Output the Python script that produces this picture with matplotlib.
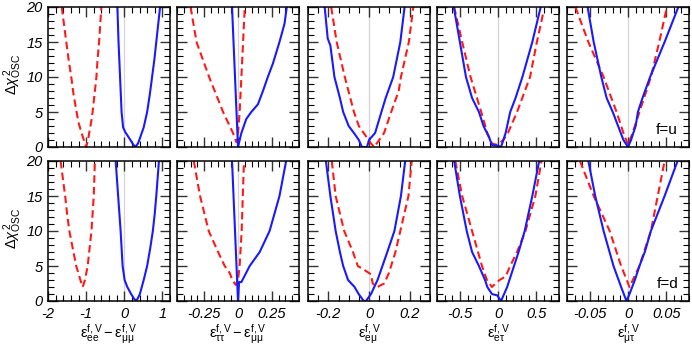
import matplotlib
matplotlib.use("Agg")
import matplotlib.pyplot as plt
from matplotlib.ticker import MultipleLocator, FuncFormatter

plt.rcParams['font.family'] = ['Liberation Sans', 'DejaVu Sans']
plt.rcParams['axes.unicode_minus'] = False
plt.rcParams['mathtext.fontset'] = 'custom'
plt.rcParams['mathtext.rm'] = 'Liberation Sans'
plt.rcParams['mathtext.it'] = 'Liberation Sans:italic'
plt.rcParams['mathtext.bf'] = 'Liberation Sans:bold'

# ---- data: f = u (top row) ----
u_ee_blue_x = [-0.18, -0.15, -0.11, -0.07, -0.03, 0.03, 0.15, 0.23, 0.29, 0.36, 0.42, 0.51, 0.60, 0.67, 0.73, 0.79, 0.84, 0.89, 0.94]
u_ee_blue_y = [20, 15, 10, 5, 2.8, 2.1, 1.1, 0.4, 0, 0.5, 1.4, 2.8, 5, 7.5, 10, 12.5, 15, 17.5, 20]
u_ee_red_x = [-1.64, -1.58, -1.52, -1.46, -1.39, -1.33, -1.25, -1.20, -1.12, -1.06, -1.0,
              -0.95, -0.92, -0.87, -0.83, -0.78, -0.73, -0.70, -0.66, -0.63, -0.60]
u_ee_red_y = [20, 17.5, 15, 12.5, 10, 7.5, 5, 3.5, 2, 1, 0, 1, 2, 3.5, 5, 7.5, 10, 12.5, 15, 17.5, 20]

u_tt_blue_x = [-0.044, 0.0, 0.025, 0.061, 0.098, 0.147, 0.184, 0.22, 0.257, 0.306, 0.343, 0.36]
u_tt_blue_y = [20, 0, 2, 4, 5, 6.1, 8, 10, 11.9, 15, 17.6, 20]
u_tt_red_x = [-0.35, -0.306, -0.213, -0.11, -0.037, -0.012, -0.004, 0.012, 0.025, 0.05]
u_tt_red_y = [20, 15, 10, 5, 2, 0.7, 0.9, 5, 10, 20]

u_em_blue_x = [-0.218, -0.203, -0.19, -0.17, -0.143, -0.127, -0.10, -0.074, -0.05, -0.035, -0.01, 0.0, 0.03, 0.061, 0.082, 0.119, 0.154, 0.175]
u_em_blue_y = [20, 15.5, 14.5, 10, 7, 5, 3, 2, 1, 0, 0, 1, 2, 5, 7, 10, 15, 20]
u_em_red_x = [-0.186, -0.159, -0.119, -0.074, -0.05, -0.014, 0.01, 0.026, 0.05, 0.074, 0.109, 0.146, 0.157, 0.196, 0.218]
u_em_red_y = [20, 15, 10, 5, 3, 1.5, 0.5, 0, 1, 2, 5, 8, 10, 15, 20]

u_et_blue_x = [-0.58, -0.50, -0.42, -0.34, -0.25, -0.19, -0.145, -0.11, -0.08, -0.01, 0.04, 0.10, 0.16, 0.23, 0.32, 0.45, 0.56]
u_et_blue_y = [20, 15, 10, 7, 5, 3, 2, 1.2, 0.3, 0.2, 0, 2, 5, 7, 10, 15, 20]
u_et_red_x = [-0.575, -0.47, -0.36, -0.22, -0.14, -0.08, -0.01, 0.07, 0.13, 0.25, 0.42, 0.51, 0.59]
u_et_red_y = [20, 15, 10, 5, 2, 0.5, 0.3, 1, 2, 5, 10, 15, 19]

u_mt_blue_x = [-0.053, -0.045, -0.035, -0.028, -0.020, -0.013, -0.006, 0.0, 0.004, 0.010, 0.013, 0.019, 0.029, 0.048, 0.066]
u_mt_blue_y = [20, 15, 10, 7, 5, 3, 1, 0, 1, 3, 5, 7, 10, 15, 20]
u_mt_red_x = [-0.069, -0.052, -0.032, -0.015, -0.006, 0.0, 0.006, 0.015, 0.030, 0.041, 0.051]
u_mt_red_y = [20, 15, 10, 5, 2, 0.3, 2, 5, 10, 15, 20]

# ---- data: f = d (bottom row) ----
d_ee_blue_x = [-0.225, -0.16, -0.095, -0.043, 0.01, 0.08, 0.18, 0.26, 0.32, 0.41, 0.51, 0.60, 0.68, 0.75, 0.80, 0.84, 0.91]
d_ee_blue_y = [20, 15, 10, 5, 3, 2, 1, 0.3, 0, 1, 3, 5, 7.5, 10, 12.5, 15, 20]
d_ee_red_x = [-1.67, -1.61, -1.55, -1.50, -1.44, -1.35, -1.26, -1.15, -1.09, -1.03, -0.96, -0.91, -0.86, -0.80, -0.77]
d_ee_red_y = [20, 17.5, 15, 12.5, 10, 7.5, 5, 3, 2, 3, 5, 7.5, 10, 15, 20]

d_tt_blue_x = [-0.044, 0.0, 0.008, 0.025, 0.086, 0.16, 0.233, 0.306, 0.355]
d_tt_blue_y = [20, 0, 2.7, 2.7, 5, 7, 10, 15, 20]
d_tt_red_x = [-0.326, -0.28, -0.216, -0.147, -0.098, -0.061, -0.042, -0.017, 0.0, 0.012, 0.027, 0.044]
d_tt_red_y = [20, 15, 10, 7, 5, 4, 3, 2.3, 3, 5, 10, 20]

d_em_blue_x = [-0.212, -0.19, -0.164, -0.143, -0.127, -0.103, -0.071, -0.051, -0.026, -0.015, 0.01, 0.042, 0.066, 0.09, 0.125, 0.157, 0.178]
d_em_blue_y = [20, 15, 10, 7, 5, 3, 2, 1, 0, 0, 1, 3, 5, 7, 10, 15, 20]
d_em_red_x = [-0.183, -0.164, -0.122, -0.079, -0.055, -0.026, 0.0, 0.01, 0.018, 0.042, 0.074, 0.098, 0.13, 0.154, 0.194, 0.21]
d_em_red_y = [20, 15, 10, 7, 5, 4.5, 4, 3.8, 2.5, 2, 2.5, 4, 7, 10, 15, 20]

d_et_blue_x = [-0.575, -0.50, -0.41, -0.34, -0.25, -0.17, -0.14, -0.08, -0.01, 0.04, 0.12, 0.21, 0.27, 0.35, 0.45, 0.54]
d_et_blue_y = [20, 15, 10, 7, 5, 3, 2, 1, 0.8, 0, 2, 5, 7, 10, 15, 20]
d_et_red_x = [-0.56, -0.47, -0.34, -0.21, -0.145, -0.08, 0.02, 0.10, 0.16, 0.25, 0.36, 0.49, 0.57]
d_et_red_y = [20, 15, 10, 5, 3, 2, 3, 3.5, 5, 7, 10, 15, 20]

d_mt_blue_x = [-0.052, -0.043, -0.032, -0.019, -0.009, -0.002, 0.002, 0.009, 0.015, 0.022, 0.030, 0.048, 0.065]
d_mt_blue_y = [20, 15, 10, 5, 2, 0, 1, 3, 5, 7, 10, 15, 20]
d_mt_red_x = [-0.063, -0.045, -0.024, -0.009, 0.002, 0.015, 0.030, 0.039, 0.048]
d_mt_red_y = [20, 15, 10, 5, 2, 5, 10, 15, 20]

# per-column settings: x limits, major/minor tick steps, axis labels
xlims = [(-2, 1.2), (-0.45, 0.45), (-0.3, 0.3), (-0.8, 0.8), (-0.08, 0.08)]
major_steps = [1, 0.25, 0.2, 0.5, 0.05]
minor_steps = [0.2, 0.05, 0.05, 0.1, 0.01]
xlabels = [
    r'$\mathrm{\varepsilon^{f,V}_{ee} - \varepsilon^{f,V}_{\mu\mu}}$',
    r'$\mathrm{\varepsilon^{f,V}_{\tau\tau} - \varepsilon^{f,V}_{\mu\mu}}$',
    r'$\mathrm{\varepsilon^{f,V}_{e\mu}}$',
    r'$\mathrm{\varepsilon^{f,V}_{e\tau}}$',
    r'$\mathrm{\varepsilon^{f,V}_{\mu\tau}}$',
]
flavours = ['f=u', 'f=d']

rows = [
    [(u_ee_blue_x, u_ee_blue_y, u_ee_red_x, u_ee_red_y),
     (u_tt_blue_x, u_tt_blue_y, u_tt_red_x, u_tt_red_y),
     (u_em_blue_x, u_em_blue_y, u_em_red_x, u_em_red_y),
     (u_et_blue_x, u_et_blue_y, u_et_red_x, u_et_red_y),
     (u_mt_blue_x, u_mt_blue_y, u_mt_red_x, u_mt_red_y)],
    [(d_ee_blue_x, d_ee_blue_y, d_ee_red_x, d_ee_red_y),
     (d_tt_blue_x, d_tt_blue_y, d_tt_red_x, d_tt_red_y),
     (d_em_blue_x, d_em_blue_y, d_em_red_x, d_em_red_y),
     (d_et_blue_x, d_et_blue_y, d_et_red_x, d_et_red_y),
     (d_mt_blue_x, d_mt_blue_y, d_mt_red_x, d_mt_red_y)],
]

W, H = 692, 346
fig = plt.figure(figsize=(W / 100, H / 100), dpi=100)

lefts = [48, 177, 308, 437, 567]
pw = 122
tops = [7, 161]
ph = 140

fmt = FuncFormatter(lambda v, p: '0' if abs(v) < 1e-9 else f'{v:g}')

axes = []
for r in range(2):
    for c in range(5):
        ax = fig.add_axes([lefts[c] / W, 1 - (tops[r] + ph) / H, pw / W, ph / H])
        axes.append(ax)
        bx, by, rx, ry = rows[r][c]
        ax.axvline(0, color='#d4d4d4', lw=0.9, zorder=0)
        ax.plot(rx, ry, color='#ff1a1a', lw=1.5, dashes=(3.6, 2))
        ax.plot(bx, by, color='#1a1aff', lw=1.5)
        ax.set_xlim(xlims[c])
        ax.set_ylim(0, 20)
        ax.xaxis.set_major_locator(MultipleLocator(major_steps[c]))
        ax.xaxis.set_minor_locator(MultipleLocator(minor_steps[c]))
        ax.yaxis.set_major_locator(MultipleLocator(5))
        ax.yaxis.set_minor_locator(MultipleLocator(1))
        ax.xaxis.set_major_formatter(fmt)
        ax.tick_params(which='both', direction='in', top=True, right=True,
                       labelsize=10.5, pad=4)
        ax.tick_params(which='major', length=7.5, width=1.0, color='#333333')
        ax.tick_params(which='minor', length=4, width=0.8)
        for s in ax.spines.values():
            s.set_linewidth(1.1)
        if r == 0:
            ax.tick_params(labelbottom=False)
        else:
            ax.set_xlabel(xlabels[c], fontsize=10.5)
            ax.xaxis.set_label_coords(0.5, -0.15)
        if c == 0:
            ax.set_ylabel(r'$\Delta\mathit{\chi}^{\,2}_{\mathrm{OSC}}$', fontsize=10.5)
            ax.yaxis.set_label_coords(-0.2, 0.52)
        else:
            ax.tick_params(labelleft=False)
        if c == 4:
            ax.text(0.91, 0.07, flavours[r], transform=ax.transAxes,
                    ha='right', va='bottom', fontsize=11)

# tick numbers are italic in the original
fig.canvas.draw()
for ax in axes:
    for lab in ax.get_xticklabels() + ax.get_yticklabels():
        lab.set_fontstyle('italic')

fig.savefig('out.png', dpi=100)
